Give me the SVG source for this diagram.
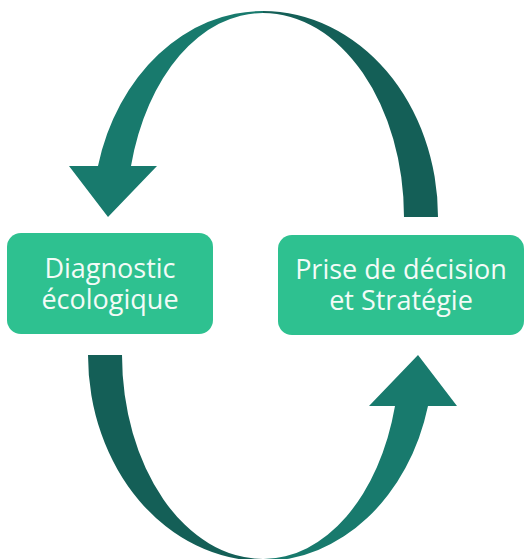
<svg xmlns="http://www.w3.org/2000/svg" width="527" height="559" viewBox="0 0 527 559">
  <style>
    .box { fill: #2ec190; }
    .lbl { font-family: "Open Sans", "Noto Sans", sans-serif; font-size: 27px; fill: #f3fbf7; text-anchor: middle; }
    .light { fill: #187a6d; }
    .dark { fill: #145f57; }
  </style>
  <g id="connectors">
    <g id="arrow-top">
      <path class="light" d="M263,11 A170,206 0 0 0 98,166 L69,166 L108,217 L157,166 L131,166 A136,204 0 0 1 263,13 Z"/>
      <path class="dark" d="M263,11 A175,206 0 0 1 438,217 L404,217 A141,204 0 0 0 263,13 Z"/>
    </g>
    <g id="arrow-bottom" transform="rotate(180 263 286)">
      <path class="light" d="M263,11 A170,206 0 0 0 98,166 L69,166 L108,217 L157,166 L131,166 A136,204 0 0 1 263,13 Z"/>
      <path class="dark" d="M263,11 A175,206 0 0 1 438,217 L404,217 A141,204 0 0 0 263,13 Z"/>
    </g>
  </g>
  <g id="node-diagnostic">
    <rect class="box" x="7" y="233" width="206" height="101" rx="14"/>
    <text class="lbl"><tspan x="110" y="278">Diagnostic</tspan><tspan x="110" y="309">écologique</tspan></text>
  </g>
  <g id="node-decision">
    <rect class="box" x="278" y="235" width="246" height="100" rx="14"/>
    <text class="lbl"><tspan x="401" y="279">Prise de décision</tspan><tspan x="401" y="310">et Stratégie</tspan></text>
  </g>
</svg>
